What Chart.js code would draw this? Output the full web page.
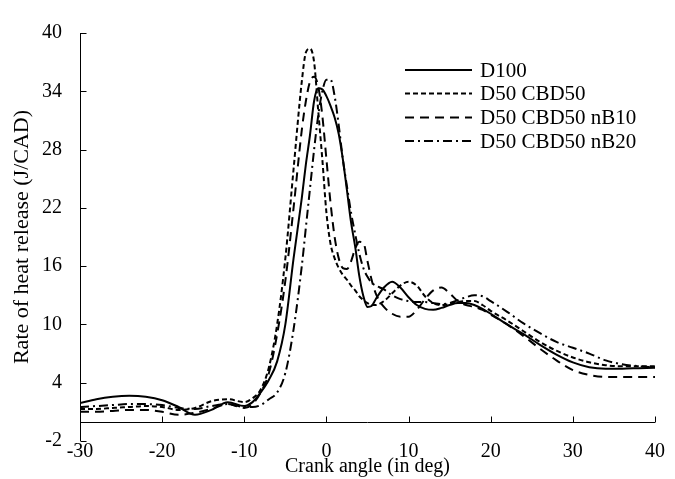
<!DOCTYPE html>
<html>
<head>
<meta charset="utf-8">
<script src="https://cdn.jsdelivr.net/npm/chart.js@4/dist/chart.umd.min.js"></script>
<style>
  html, body { margin: 0; padding: 0; background: #fff; }
  #wrap { width: 675px; height: 479px; }
</style>
</head>
<body>
<div id="wrap"><canvas id="c" width="675" height="479"></canvas></div>
<script>
// Crank angle grid (deg) shared by all series
const crankAngle = [-30,-28,-26,-24,-22,-20,-18,-16,-14,-12,-10,-9,-8,-7,-6,-5,-4,-3,-2.5,-2,-1.5,-1,-0.5,0,0.5,1,1.5,2,2.5,3,3.5,4,4.5,5,5.5,6,7,8,9,10,11,12,13,14,15,16,17,18,19,20,22,24,26,28,30,32,34,36,38,40];

// Rate of heat release (J/CAD)
const d100 = [1.9,2.3,2.55,2.65,2.55,2.2,1.5,0.7,1.2,2.0,1.6,2.0,3.0,4.3,6.2,10,16.8,23,26.5,29.5,33,34.3,34.2,33.5,32.5,31.3,29.6,27,23.8,20.5,18,15,12.9,11.8,11.9,12.6,13.8,14.4,13.8,12.8,12.0,11.6,11.5,11.7,12.0,12.2,12.2,12.0,11.6,11.1,10.0,9.0,7.9,6.9,6.1,5.6,5.45,5.45,5.5,5.55];
const d50cbd50 = [1.3,1.3,1.4,1.5,1.6,1.5,1.2,1.4,2.1,2.3,2.0,2.4,3.3,5.6,10,16.8,26,35,38,38.4,37,32,27,21.5,18.3,16.8,15.8,15.1,14.6,14,13.5,12.9,12.5,12.2,12.0,12.0,12.4,13.2,14.0,14.4,14.0,12.9,12.2,12.0,12.1,12.3,12.4,12.4,12.0,11.4,10.4,9.3,8.2,7.3,6.6,6.1,5.8,5.7,5.7,5.7];
const d50nb10 = [1.0,1.0,1.1,1.2,1.2,1.0,0.7,0.9,1.3,1.8,1.4,1.8,3.0,5.0,9,14.5,22,30,33,35,35.5,34.5,31.5,27,22.5,19,16.8,15.8,15.7,16.5,17.8,18.5,18.4,16.5,14.6,13.2,11.8,11.1,10.8,10.8,11.5,12.6,13.5,13.8,13.2,12.4,12.0,11.8,11.5,11.0,10.0,8.8,7.5,6.3,5.3,4.8,4.6,4.6,4.6,4.6];
const d50nb20 = [1.5,1.6,1.7,1.8,1.8,1.7,1.4,1.3,1.6,1.8,1.5,1.5,1.7,2.3,3.0,5.0,9.5,16,20,24,28,31.5,34,35.2,35.2,33.5,30.5,27,24.2,21.5,19.3,17.3,15.8,14.9,14.3,14.0,13.6,13.0,12.6,12.4,12.3,12.3,12.2,12.1,12.2,12.5,12.8,13.0,12.9,12.4,11.3,10.1,9.1,8.2,7.6,7.0,6.3,5.9,5.7,5.6];

const seriesNames = ['D100', 'D50 CBD50', 'D50 CBD50 nB10', 'D50 CBD50 nB20'];
const seriesValues = [d100, d50cbd50, d50nb10, d50nb20];
const seriesDash = [[], [5, 3], [9, 6], [9, 4, 2, 4]];

// Y ticks and X ticks
const yTicks = [-2, 4, 10, 16, 22, 28, 34, 40];
const xTicks = [-30, -20, -10, 0, 10, 20, 30, 40];

const FONT = "'Liberation Serif', 'Times New Roman', serif";

const datasets = seriesNames.map((name, i) => ({
  label: name,
  data: crankAngle.map((a, k) => ({ x: a, y: seriesValues[i][k] })),
  borderColor: '#000',
  borderWidth: 2,
  borderDash: seriesDash[i],
  pointRadius: 0,
  fill: false,
  cubicInterpolationMode: 'monotone',
  showLine: true
}));

// Axis lines: y-axis at the left edge, x-axis crossing at y = 0
const axesPlugin = {
  id: 'crossAxes',
  afterDatasetsDraw(chart) {
    const { ctx, chartArea, scales } = chart;
    const xs = scales.x, ys = scales.y;
    const y0 = Math.round(ys.getPixelForValue(0)) + 0.5;
    const xl = Math.round(chartArea.left) + 0.5;
    ctx.save();
    ctx.strokeStyle = '#000';
    ctx.lineWidth = 1;
    ctx.setLineDash([]);
    ctx.beginPath();
    ctx.moveTo(xl, chartArea.top);
    ctx.lineTo(xl, chartArea.bottom);
    ctx.moveTo(chartArea.left, y0);
    ctx.lineTo(chartArea.right, y0);
    yTicks.forEach(v => {
      const py = Math.round(ys.getPixelForValue(v)) + 0.5;
      ctx.moveTo(xl, py);
      ctx.lineTo(xl + 6, py);
    });
    xTicks.forEach(v => {
      const px = Math.round(xs.getPixelForValue(v)) + 0.5;
      ctx.moveTo(px, y0);
      ctx.lineTo(px, y0 - 6);
    });
    ctx.stroke();
    ctx.restore();
  }
};

// Legend drawn inside the plot area, upper right
const legendPlugin = {
  id: 'innerLegend',
  afterDraw(chart) {
    const { ctx } = chart;
    const x0 = 405, x1 = 472, tx = 480;
    const rows = [70, 93.5, 117.5, 141];
    ctx.save();
    chart.data.datasets.forEach((ds, i) => {
      ctx.strokeStyle = '#000';
      ctx.lineWidth = ds.borderWidth;
      ctx.setLineDash(ds.borderDash || []);
      ctx.beginPath();
      ctx.moveTo(x0, rows[i]);
      ctx.lineTo(x1, rows[i]);
      ctx.stroke();
      ctx.setLineDash([]);
      ctx.fillStyle = '#000';
      ctx.font = '21px ' + FONT;
      ctx.textBaseline = 'middle';
      ctx.textAlign = 'left';
      ctx.fillText(ds.label, tx, rows[i] + 1);
    });
    ctx.restore();
  }
};

new Chart(document.getElementById('c'), {
  type: 'scatter',
  data: { datasets },
  options: {
    responsive: false,
    animation: false,
    devicePixelRatio: 1,
    layout: { padding: { left: 0, right: 20, top: 33, bottom: 0 } },
    plugins: { legend: { display: false }, tooltip: { enabled: false } },
    scales: {
      x: {
        type: 'linear',
        min: -30, max: 40,
        afterBuildTicks: s => { s.ticks = xTicks.map(v => ({ value: v })); },
        afterFit: s => { s.height = 38; },
        grid: { display: false, drawTicks: false },
        border: { display: false },
        ticks: { color: '#000', font: { family: FONT, size: 20 }, padding: -1, maxRotation: 0 },
        title: { display: true, text: 'Crank angle (in deg)', color: '#000', font: { family: FONT, size: 20 }, padding: { top: 0, bottom: 0 } }
      },
      y: {
        min: -2, max: 40,
        afterBuildTicks: s => { s.ticks = yTicks.map(v => ({ value: v })); },
        afterFit: s => { s.width = 80; },
        grid: { display: false, drawTicks: false },
        border: { display: false },
        ticks: { color: '#000', font: { family: FONT, size: 20 }, padding: 18 },
        title: { display: true, text: 'Rate of heat release (J/CAD)', color: '#000', font: { family: FONT, size: 22 }, padding: { top: 9, bottom: 0 } }
      }
    }
  },
  plugins: [axesPlugin, legendPlugin]
});
</script>
</body>
</html>
